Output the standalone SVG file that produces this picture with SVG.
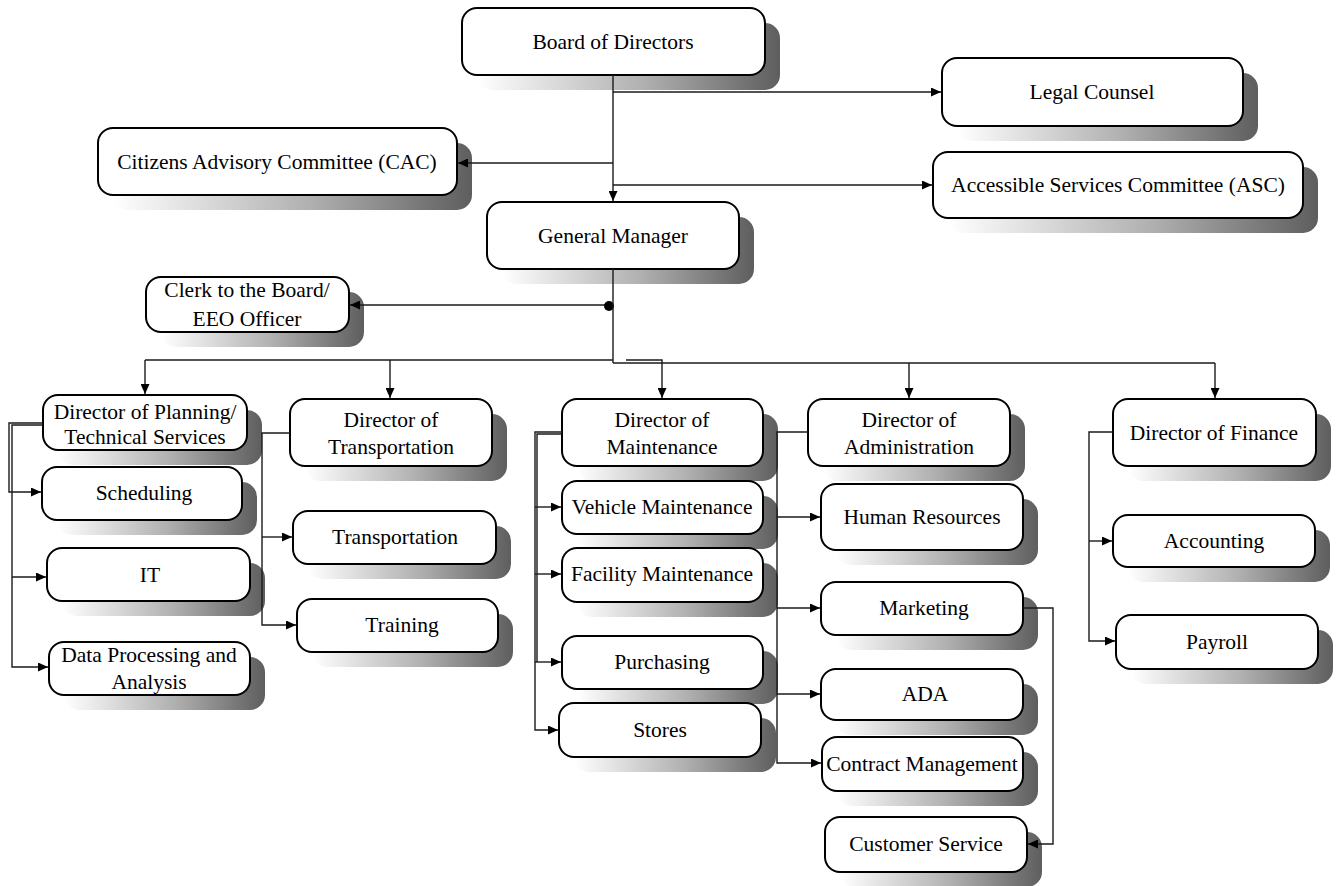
<svg xmlns="http://www.w3.org/2000/svg" width="1338" height="886" viewBox="0 0 1338 886">
<defs>
<linearGradient id="sh" x1="0" y1="0" x2="1" y2="0">
<stop offset="0" stop-color="#ffffff"/>
<stop offset="0.55" stop-color="#b0b0b0"/>
<stop offset="1" stop-color="#5e5e5e"/>
</linearGradient>
<marker id="ah" markerUnits="userSpaceOnUse" markerWidth="11" markerHeight="9" refX="10" refY="4.5" orient="auto">
<path d="M0,0 L10,4.5 L0,9 z" fill="#000"/>
</marker>
<style>
.s{fill:url(#sh)}
.b{fill:#fff;stroke:#000;stroke-width:2}
text{font-family:"Liberation Serif","Times New Roman",serif;font-size:21.5px;fill:#000;text-anchor:middle}
.c path{fill:none;stroke:#1a1a1a;stroke-width:1.4}
.c .a{marker-end:url(#ah)}
</style>
</defs>
<rect width="1338" height="886" fill="#fff"/>

<g id="board"><rect class="s" x="477" y="23" width="303" height="67" rx="15"/><rect class="b" x="462" y="8" width="303" height="67" rx="15"/><text x="613" y="49">Board of Directors</text></g>
<g id="legal"><rect class="s" x="957" y="73" width="301" height="68" rx="15"/><rect class="b" x="942" y="58" width="301" height="68" rx="15"/><text x="1092" y="99">Legal Counsel</text></g>
<g id="cac"><rect class="s" x="113" y="143" width="359" height="67" rx="15"/><rect class="b" x="98" y="128" width="359" height="67" rx="15"/><text x="277" y="169">Citizens Advisory Committee (CAC)</text></g>
<g id="asc"><rect class="s" x="948" y="167" width="370" height="66" rx="15"/><rect class="b" x="933" y="152" width="370" height="66" rx="15"/><text x="1118" y="192">Accessible Services Committee (ASC)</text></g>
<g id="gm"><rect class="s" x="502" y="217" width="252" height="67" rx="15"/><rect class="b" x="487" y="202" width="252" height="67" rx="15"/><text x="613" y="243">General Manager</text></g>
<g id="clerk"><rect class="s" x="161" y="292" width="203" height="55" rx="15"/><rect class="b" x="146" y="277" width="203" height="55" rx="15"/><text x="247" y="297">Clerk to the Board/</text><text x="247" y="326">EEO Officer</text></g>

<g id="planning"><rect class="s" x="58" y="410" width="204" height="55" rx="15"/><rect class="b" x="43" y="395" width="204" height="55" rx="15"/><text x="145" y="419">Director of Planning/</text><text x="145" y="444">Technical Services</text></g>
<g id="dir-transportation"><rect class="s" x="305" y="414" width="202" height="67" rx="15"/><rect class="b" x="290" y="399" width="202" height="67" rx="15"/><text x="391" y="427">Director of</text><text x="391" y="454">Transportation</text></g>
<g id="dir-maintenance"><rect class="s" x="577" y="414" width="201" height="67" rx="15"/><rect class="b" x="562" y="399" width="201" height="67" rx="15"/><text x="662" y="427">Director of</text><text x="662" y="454">Maintenance</text></g>
<g id="dir-administration"><rect class="s" x="823" y="414" width="202" height="67" rx="15"/><rect class="b" x="808" y="399" width="202" height="67" rx="15"/><text x="909" y="427">Director of</text><text x="909" y="454">Administration</text></g>
<g id="dir-finance"><rect class="s" x="1128" y="414" width="203" height="67" rx="15"/><rect class="b" x="1113" y="399" width="203" height="67" rx="15"/><text x="1214" y="440">Director of Finance</text></g>

<g id="scheduling"><rect class="s" x="57" y="482" width="200" height="53" rx="15"/><rect class="b" x="42" y="467" width="200" height="53" rx="15"/><text x="144" y="500">Scheduling</text></g>
<g id="it"><rect class="s" x="62" y="563" width="203" height="53" rx="15"/><rect class="b" x="47" y="548" width="203" height="53" rx="15"/><text x="150" y="582">IT</text></g>
<g id="data"><rect class="s" x="64" y="657" width="201" height="53" rx="15"/><rect class="b" x="49" y="642" width="201" height="53" rx="15"/><text x="149" y="662">Data Processing and</text><text x="149" y="689">Analysis</text></g>

<g id="transportation"><rect class="s" x="308" y="526" width="203" height="53" rx="15"/><rect class="b" x="293" y="511" width="203" height="53" rx="15"/><text x="395" y="544">Transportation</text></g>
<g id="training"><rect class="s" x="312" y="614" width="201" height="53" rx="15"/><rect class="b" x="297" y="599" width="201" height="53" rx="15"/><text x="402" y="632">Training</text></g>

<g id="vehicle"><rect class="s" x="577" y="496" width="201" height="53" rx="15"/><rect class="b" x="562" y="481" width="201" height="53" rx="15"/><text x="662" y="514">Vehicle Maintenance</text></g>
<g id="facility"><rect class="s" x="577" y="563" width="201" height="54" rx="15"/><rect class="b" x="562" y="548" width="201" height="54" rx="15"/><text x="662" y="581">Facility Maintenance</text></g>
<g id="purchasing"><rect class="s" x="577" y="651" width="201" height="53" rx="15"/><rect class="b" x="562" y="636" width="201" height="53" rx="15"/><text x="662" y="669">Purchasing</text></g>
<g id="stores"><rect class="s" x="574" y="718" width="202" height="54" rx="15"/><rect class="b" x="559" y="703" width="202" height="54" rx="15"/><text x="660" y="737">Stores</text></g>

<g id="hr"><rect class="s" x="836" y="499" width="202" height="66" rx="15"/><rect class="b" x="821" y="484" width="202" height="66" rx="15"/><text x="922" y="524">Human Resources</text></g>
<g id="marketing"><rect class="s" x="836" y="597" width="202" height="53" rx="15"/><rect class="b" x="821" y="582" width="202" height="53" rx="15"/><text x="924" y="615">Marketing</text></g>
<g id="ada"><rect class="s" x="836" y="684" width="202" height="51" rx="15"/><rect class="b" x="821" y="669" width="202" height="51" rx="15"/><text x="925" y="701">ADA</text></g>
<g id="contract"><rect class="s" x="837" y="752" width="201" height="54" rx="15"/><rect class="b" x="822" y="737" width="201" height="54" rx="15"/><text x="922" y="771">Contract Management</text></g>
<g id="customer"><rect class="s" x="840" y="832" width="202" height="55" rx="15"/><rect class="b" x="825" y="817" width="202" height="55" rx="15"/><text x="926" y="851">Customer Service</text></g>

<g id="accounting"><rect class="s" x="1128" y="530" width="202" height="52" rx="15"/><rect class="b" x="1113" y="515" width="202" height="52" rx="15"/><text x="1214" y="548">Accounting</text></g>
<g id="payroll"><rect class="s" x="1131" y="630" width="202" height="54" rx="15"/><rect class="b" x="1116" y="615" width="202" height="54" rx="15"/><text x="1217" y="649">Payroll</text></g>

<g id="connectors" class="c">
<path class="a" d="M613,75 V201"/>
<path class="a" d="M613,92 H941"/>
<path class="a" d="M613,163 H458"/>
<path class="a" d="M613,185 H932"/>
<path class="a" d="M609,305 H350"/>
<circle cx="609" cy="306" r="5" fill="#000"/>
<path d="M613,269 V363"/>
<path d="M145,360 H613"/>
<path class="a" d="M145,360 V394"/>
<path class="a" d="M390,360 V398"/>
<path d="M613,363 H1215"/>
<path class="a" d="M909,363 V398"/>
<path class="a" d="M1215,363 V398"/>
<path class="a" d="M626,360 H662 V398"/>
<path class="a" d="M43,423 H9 V492 H41"/>
<path class="a" d="M43,425 H12 V667 H48"/>
<path class="a" d="M12,577 H46"/>
<path class="a" d="M290,433 H262 V625 H296"/>
<path class="a" d="M262,537 H292"/>
<path class="a" d="M562,432 H535 V730 H558"/>
<path d="M562,434 H537 V662"/>
<path class="a" d="M535,507 H561"/>
<path class="a" d="M535,574 H561"/>
<path class="a" d="M535,662 H561"/>
<path class="a" d="M808,432 H777 V763 H821"/>
<path class="a" d="M777,517 H820"/>
<path class="a" d="M777,608 H820"/>
<path class="a" d="M777,694 H820"/>
<path class="a" d="M1023,608 H1053 V844 H1028"/>
<path class="a" d="M1113,432 H1089 V641 H1115"/>
<path class="a" d="M1089,541 H1112"/>
</g>
</svg>
